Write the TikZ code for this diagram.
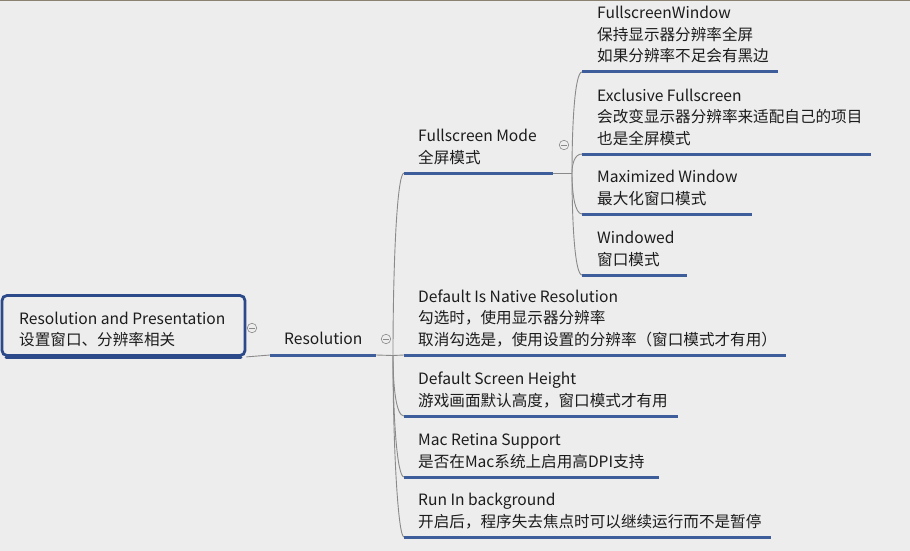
\documentclass[tikz,border=0pt]{standalone}
\usepackage{fontspec}
\newfontfamily\cjk{Noto Sans CJK SC}
\definecolor{bg}{HTML}{EDEDED}
\definecolor{ublue}{HTML}{3D5E9A}
\definecolor{rblue}{HTML}{2C4A8A}
\definecolor{cgray}{HTML}{8A8A8A}
\definecolor{txtc}{HTML}{1C1C1C}
\definecolor{edgec}{HTML}{8C8272}
\tikzset{
  lab/.style={anchor=base west, align=left, inner sep=0pt, font=\cjk\fontsize{15.6}{21.5}\selectfont, text=txtc},
  ul/.style={draw=ublue, line width=3pt},
  conn/.style={draw=cgray, line width=0.9pt},
  fold/.style={circle, draw=cgray, line width=0.6pt, minimum size=9.5pt, inner sep=0pt, fill=bg,
    path picture={\draw[cgray, line width=0.6pt] ([xshift=-2.6pt]path picture bounding box.center) -- ([xshift=2.6pt]path picture bounding box.center);}},
  rootbox/.style={draw=rblue, line width=2.8pt, rounded corners=5pt, fill=bg, minimum width=243pt, minimum height=60pt, inner sep=0pt}
}
\begin{document}
\begin{tikzpicture}[x=1pt,y=-1pt]
\fill[bg] (0,0) rectangle (910,551);
\useasboundingbox (0,0) rectangle (910,551);
\draw[edgec, line width=1.4pt] (0,0.7) -- (910,0.7);

% root
\draw[rblue, line width=3pt, line cap=round] (6,357.5) -- (241,357.5);
\node[rootbox] (root) at (123.5,325.5) {};
\node[lab] (rootlab) at (19,345.5) {Resolution and Presentation\\设置窗口、分辨率相关};
\node[fold] (rootfold) at (252,328) {};

% Resolution
\coordinate (res-l) at (270,355);
\coordinate (res-r) at (376,355);
\node[lab] (res) at (284,344) {Resolution};
\draw[ul] (res-l) -- (res-r);
\node[fold] (resfold) at (386,339) {};
\draw[conn] (root.south east) -- (res-l);
\coordinate (resj) at (393,355.5);
\draw[conn] (res-r) -- (resj);

% level 2
\coordinate (fm-l) at (404,173); \coordinate (fm-r) at (553,173);
\coordinate (dn-l) at (404,355); \coordinate (dn-r) at (786,355);
\coordinate (ds-l) at (404,416); \coordinate (ds-r) at (678,416);
\coordinate (mr-l) at (404,477); \coordinate (mr-r) at (659,477);
\coordinate (rb-l) at (404,537); \coordinate (rb-r) at (771,537);

\node[lab] (fm) at (418,163) {Fullscreen Mode\\全屏模式};
\node[lab] (dn) at (418,345) {Default Is Native Resolution\\勾选时，使用显示器分辨率\\取消勾选是，使用设置的分辨率（窗口模式才有用）};
\node[lab] (ds) at (418,406) {Default Screen Height\\游戏画面默认高度，窗口模式才有用};
\node[lab] (mr) at (418,467) {Mac Retina Support\\是否在Mac系统上启用高DPI支持};
\node[lab] (rb) at (418,527) {Run In background\\开启后，程序失去焦点时可以继续运行而不是暂停};

\draw[conn] (resj) .. controls (393,264) and (397,173) .. (fm-l);
\draw[conn] (resj) -- (dn-l);
\draw[conn] (resj) .. controls (393,386) and (396,416) .. (ds-l);
\draw[conn] (resj) .. controls (393,416) and (397,477) .. (mr-l);
\draw[conn] (resj) .. controls (393,446) and (398,537) .. (rb-l);

\draw[ul] (fm-l) -- (fm-r);
\draw[ul] (dn-l) -- (dn-r);
\draw[ul] (ds-l) -- (ds-r);
\draw[ul] (mr-l) -- (mr-r);
\draw[ul] (rb-l) -- (rb-r);

\node[fold] (fmfold) at (564,145) {};
\coordinate (fmj) at (572,173);
\draw[conn] (fm-r) -- (fmj);

% level 3
\coordinate (fw-l) at (582,72);  \coordinate (fw-r) at (778,72);
\coordinate (ef-l) at (582,154); \coordinate (ef-r) at (871,154);
\coordinate (mw-l) at (582,214); \coordinate (mw-r) at (752,214);
\coordinate (wd-l) at (582,275); \coordinate (wd-r) at (687,275);

\node[lab] (fw) at (597,62) {FullscreenWindow\\保持显示器分辨率全屏\\如果分辨率不足会有黑边};
\node[lab] (ef) at (597,144) {Exclusive Fullscreen\\会改变显示器分辨率来适配自己的项目\\也是全屏模式};
\node[lab] (mw) at (597,204) {Maximized Window\\最大化窗口模式};
\node[lab] (wd) at (597,265) {Windowed\\窗口模式};

\draw[conn] (fmj) .. controls (572,122) and (575,72) .. (fw-l);
\draw[conn] (fmj) .. controls (572,163) and (575,154) .. (ef-l);
\draw[conn] (fmj) .. controls (572,194) and (575,214) .. (mw-l);
\draw[conn] (fmj) .. controls (572,224) and (575,275) .. (wd-l);

\draw[ul] (fw-l) -- (fw-r);
\draw[ul] (ef-l) -- (ef-r);
\draw[ul] (mw-l) -- (mw-r);
\draw[ul] (wd-l) -- (wd-r);
\end{tikzpicture}
\end{document}
